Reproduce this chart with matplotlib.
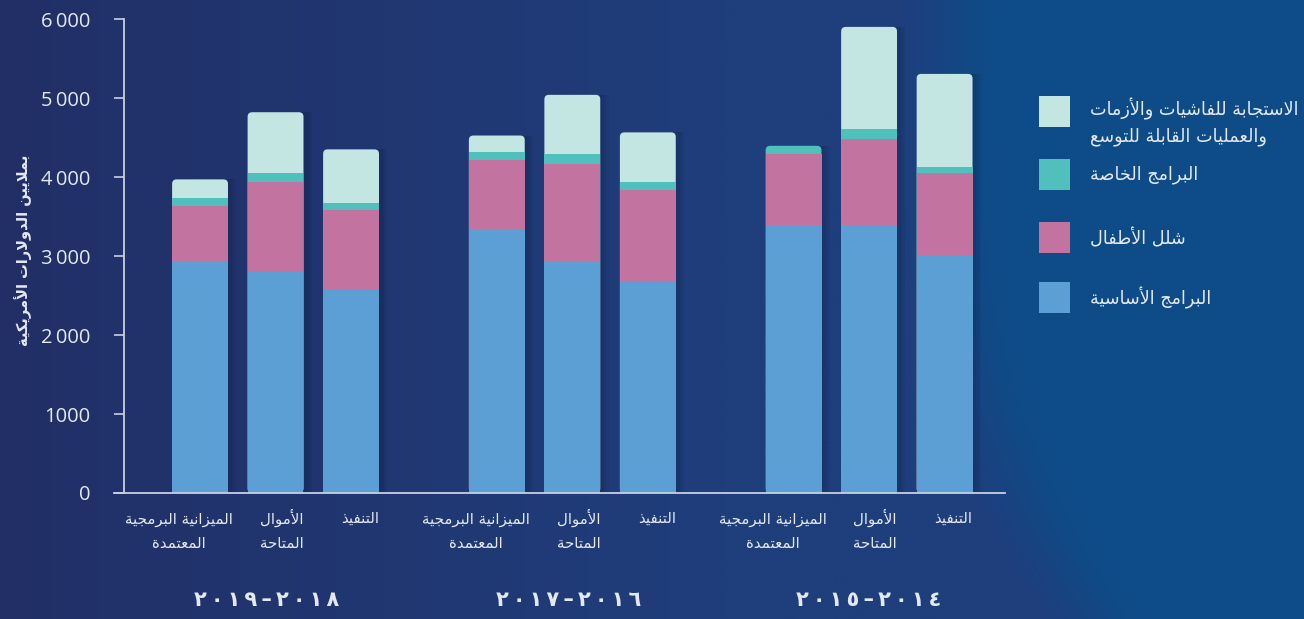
import re
import numpy as np
import matplotlib.pyplot as plt
from matplotlib.patches import Rectangle, FancyBboxPatch

# Data (USD millions)
periods = ['٢٠١٨–٢٠١٩', '٢٠١٦–٢٠١٧', '٢٠١٤–٢٠١٥']
bar_labels = ['الميزانية البرمجية\nالمعتمدة', 'الأموال\nالمتاحة', 'التنفيذ']
series_names = ['البرامج الأساسية', 'شلل الأطفال', 'البرامج الخاصة',
                'الاستجابة للفاشيات والأزمات\nوالعمليات القابلة للتوسع']
base_programmes = [2935, 2800, 2575, 3340, 2930, 2675, 3395, 3385, 3015]
polio = [700, 1140, 1010, 875, 1240, 1165, 900, 1090, 1035]
special_programmes = [100, 110, 85, 100, 120, 95, 100, 130, 80]
emergencies = [235, 770, 680, 210, 750, 630, 0, 1295, 1175]
y_ticks = [0, 1000, 2000, 3000, 4000, 5000, 6000]
y_ticklabels = ['0', '1000', '2\u2009000', '3\u2009000', '4\u2009000', '5\u2009000', '6\u2009000']
y_title = 'بملايين الدولارات الأمريكية'

colors = ['#5b9fd5', '#c2739f', '#4fc0bc', '#c3e6e3']
text_col = '#e3e8f1'
AR = ['DejaVu Sans']

# --- minimal Arabic shaping (matplotlib has no complex text layout) ---
FORMS = {
    'آ': (0xFE81, 'R'), 'أ': (0xFE83, 'R'), 'ؤ': (0xFE85, 'R'), 'إ': (0xFE87, 'R'),
    'ئ': (0xFE89, 'D'), 'ا': (0xFE8D, 'R'), 'ب': (0xFE8F, 'D'), 'ة': (0xFE93, 'R'),
    'ت': (0xFE95, 'D'), 'ث': (0xFE99, 'D'), 'ج': (0xFE9D, 'D'), 'ح': (0xFEA1, 'D'),
    'خ': (0xFEA5, 'D'), 'د': (0xFEA9, 'R'), 'ذ': (0xFEAB, 'R'), 'ر': (0xFEAD, 'R'),
    'ز': (0xFEAF, 'R'), 'س': (0xFEB1, 'D'), 'ش': (0xFEB5, 'D'), 'ص': (0xFEB9, 'D'),
    'ض': (0xFEBD, 'D'), 'ط': (0xFEC1, 'D'), 'ظ': (0xFEC5, 'D'), 'ع': (0xFEC9, 'D'),
    'غ': (0xFECD, 'D'), 'ف': (0xFED1, 'D'), 'ق': (0xFED5, 'D'), 'ك': (0xFED9, 'D'),
    'ل': (0xFEDD, 'D'), 'م': (0xFEE1, 'D'), 'ن': (0xFEE5, 'D'), 'ه': (0xFEE9, 'D'),
    'و': (0xFEED, 'R'), 'ى': (0xFEEF, 'R'), 'ي': (0xFEF1, 'D'),
}
LAM_ALEF = {'آ': 0xFEF5, 'أ': 0xFEF7, 'إ': 0xFEF9, 'ا': 0xFEFB}


def shape(s):
    out, i, prev_joins = [], 0, False
    while i < len(s):
        c = s[i]
        if c not in FORMS:
            out.append(c)
            prev_joins = False
            i += 1
            continue
        if c == 'ل' and i + 1 < len(s) and s[i + 1] in LAM_ALEF:
            out.append(chr(LAM_ALEF[s[i + 1]] + (1 if prev_joins else 0)))
            prev_joins = False
            i += 2
            continue
        cp, jt = FORMS[c]
        nxt = s[i + 1] if i + 1 < len(s) else ''
        joins_next = jt == 'D' and nxt in FORMS
        if prev_joins and joins_next:
            cp += 3
        elif prev_joins:
            cp += 1
        elif joins_next:
            cp += 2
        out.append(chr(cp))
        prev_joins = joins_next
        i += 1
    return ''.join(out)


def visual(s):
    runs = re.findall(r'[0-9٠-٩]+|[^0-9٠-٩]+', s)
    return ''.join(r if r[0].isdigit() else r[::-1] for r in reversed(runs))


def ar(text):
    return '\n'.join(visual(shape(line)) for line in text.split('\n'))


W, H = 1304, 619
fig = plt.figure(figsize=(W / 100, H / 100), dpi=100)

# background gradient
bg = fig.add_axes([0, 0, 1, 1], zorder=-10)
xs = np.linspace(0, 1, 260)
ys = np.linspace(0, 1, 124)
X, Y = np.meshgrid(xs, ys)
c_left = np.array([0x22, 0x2f, 0x66]) / 255
c_mid = np.array([0x1f, 0x3e, 0x7c]) / 255
c_right = np.array([0x0e, 0x4c, 0x88]) / 255
t1 = np.clip(X / 0.55, 0, 1)[..., None]
img = c_left * (1 - t1) + c_mid * t1
edge = 0.69 + 0.11 * np.clip((Y - 0.3) / 0.7, 0, 1) ** 2  # Y=0 top
t2 = np.clip((X - edge) / 0.07, 0, 1)[..., None]
img = img * (1 - t2) + c_right * t2
bg.imshow(img, aspect='auto', extent=[0, 1, 1, 0], interpolation='bicubic')
bg.axis('off')

ax = fig.add_axes([124 / W, 126 / H, (1005 - 124) / W, 474 / H])
ax.set_facecolor('none')

step = 3.93
pos = np.array([g * step + i for g in range(3) for i in range(3)])
width = 0.74
series = [base_programmes, polio, special_programmes, emergencies]
totals = np.sum(series, axis=0)

# soft shadow to the right of each bar
for k in range(1, 4):
    ax.bar(pos + 0.03 * k + 0.02, totals, width=width, color='#0a1430',
           alpha=0.07, zorder=1, linewidth=0)

# rounded top: full-height rounded box in the colour of the top segment
aspect = (75.5) / (474 / 6000)
for j, p in enumerate(pos):
    top = max(s for s in range(4) if series[s][j] > 0)
    ax.add_patch(FancyBboxPatch((p - width / 2, 0), width, totals[j],
                                boxstyle='round,pad=0,rounding_size=0.06',
                                mutation_aspect=aspect, facecolor=colors[top],
                                edgecolor='none', zorder=2))

bottom = np.zeros(9)
for s, vals in enumerate(series):
    vals = np.array(vals, dtype=float)
    is_top = np.array([max(q for q in range(4) if series[q][j] > 0) == s for j in range(9)])
    ax.bar(pos[~is_top], vals[~is_top], bottom=bottom[~is_top], width=width,
           color=colors[s], zorder=3, linewidth=0)
    bottom += vals

ax.set_xlim(-1.007, 10.66)
ax.set_ylim(0, 6000)
ax.set_yticks(y_ticks)
ax.set_yticklabels(y_ticklabels, family=['Open Sans', 'DejaVu Sans'], fontsize=14.5,
                   color=text_col)
ax.tick_params(axis='y', direction='out', length=7, width=1.2, color='#c8d0e2', pad=17)
ax.set_xticks([])
for side in ['top', 'right']:
    ax.spines[side].set_visible(False)
for side in ['left', 'bottom']:
    ax.spines[side].set_color('#c8d0e2')
    ax.spines[side].set_linewidth(1.3)
ax.spines['bottom'].set_bounds(-1.007 - 10 / 75.5, 10.66)
ax.spines['bottom'].set_zorder(5)

# category labels under bars (baseline of the last line is the anchor)
line_gap = 25 / 474
for j, p in enumerate(pos):
    lab = bar_labels[j % 3]
    n_lines = lab.count('\n') + 1
    ax.text(p + width / 2 + (0.07 if j % 3 == 0 else 0.0), -0.063 - (n_lines - 1) * line_gap,
            ar(lab), transform=ax.get_xaxis_transform(),
            ha='right', va='baseline', multialignment='center', family=AR,
            fontsize=10.8, color=text_col, linespacing=1.75)

# period labels
offsets = [-0.12, -0.05, -0.01]
for g in range(3):
    txt = '\u2009'.join(ar(periods[g]))
    ax.text(pos[g * 3 + 1] + offsets[g], -0.226, txt, transform=ax.get_xaxis_transform(),
            ha='center', va='center', family=AR, fontsize=15, fontweight='bold',
            color=text_col)

fig.text(23 / W, 1 - 250 / H, ar(y_title), rotation=90, ha='center', va='center',
         family=AR, fontsize=10.5, fontweight='bold', color=text_col)

# legend
leg_y = [297, 237, 175, 111]
txt_y = [298, 238, 175, 122]
for s in range(4):
    fig.add_artist(Rectangle((1039 / W, 1 - (leg_y[s] + 15.5) / H), 31 / W, 31 / H,
                             transform=fig.transFigure, facecolor=colors[s],
                             edgecolor='none'))
    fig.text(1090 / W, 1 - txt_y[s] / H, ar(series_names[s]), ha='left', va='center',
             family=AR, fontsize=12.7, color=text_col, linespacing=1.5)

fig.savefig('out.png', dpi=100)
